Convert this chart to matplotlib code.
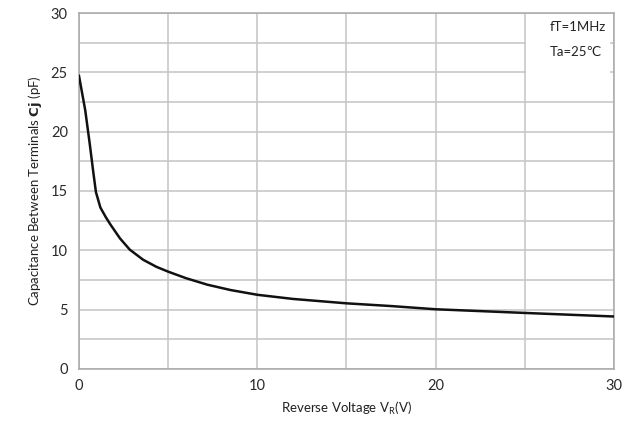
import numpy as np
import matplotlib.pyplot as plt
from matplotlib.patches import Rectangle

# reverse voltage (V) and junction capacitance (pF)
vr = [0, 0.35, 0.6, 0.8, 0.95, 1.2, 1.5, 1.75, 2.3, 2.85, 3.6, 4.35, 5,
      6, 7.2, 8.5, 10, 12, 15, 17.5, 20, 25, 30]
cj = [24.7, 21.8, 19.0, 16.6, 14.9, 13.6, 12.8, 12.2, 11.0, 10.05, 9.2, 8.6, 8.2,
      7.65, 7.1, 6.65, 6.25, 5.9, 5.53, 5.3, 5.03, 4.72, 4.42]

x_ticks = [0, 10, 20, 30]
y_ticks = [0, 5, 10, 15, 20, 25, 30]
note_lines = ["fT=1MHz", "Ta=25\u2103"]

plt.rcParams['font.family'] = ['Lato', 'DejaVu Sans']

fig = plt.figure(figsize=(6.32, 4.28), dpi=100)
ax = fig.add_axes([0.125, 0.138, 0.8465, 0.8316])

ax.set_xlim(0, 30)
ax.set_ylim(0, 30)
ax.set_xticks(x_ticks)
ax.set_yticks(y_ticks)
ax.set_xticks(np.arange(0, 31, 5), minor=True)
ax.set_yticks(np.arange(0, 31, 2.5), minor=True)
ax.grid(which='both', color='#c4c4c4', lw=1.1)
ax.set_axisbelow(True)
ax.tick_params(which='both', length=0, labelsize=10.5, labelcolor='#2a2a2a')
ax.tick_params(axis='y', pad=8)
ax.tick_params(axis='x', pad=7)
for s in ax.spines.values():
    s.set_color('#a8a8a8')
    s.set_linewidth(1.1)

# white patch behind the conditions note
ax.add_patch(Rectangle((25.08, 22.7), 4.7, 7.25, facecolor='white',
                       edgecolor='none', zorder=1))
ax.text(26.4, 28.85, note_lines[0], fontsize=9.5, color='#222222', va='center')
ax.text(26.4, 26.7, note_lines[1], fontsize=9.5, color='#222222', va='center')

ax.plot(vr, cj, color='#111111', lw=1.8, zorder=3)

ax.set_xlabel("Reverse Voltage V$_\\mathregular{R}$(V)", fontsize=9.5, color='#222222',
              labelpad=5)
ax.set_ylabel("Capacitance Between Terminals $\\mathbf{Cj}$ (pF)", fontsize=9.5,
              color='#222222', labelpad=5)

fig.savefig("out.png", dpi=100)
